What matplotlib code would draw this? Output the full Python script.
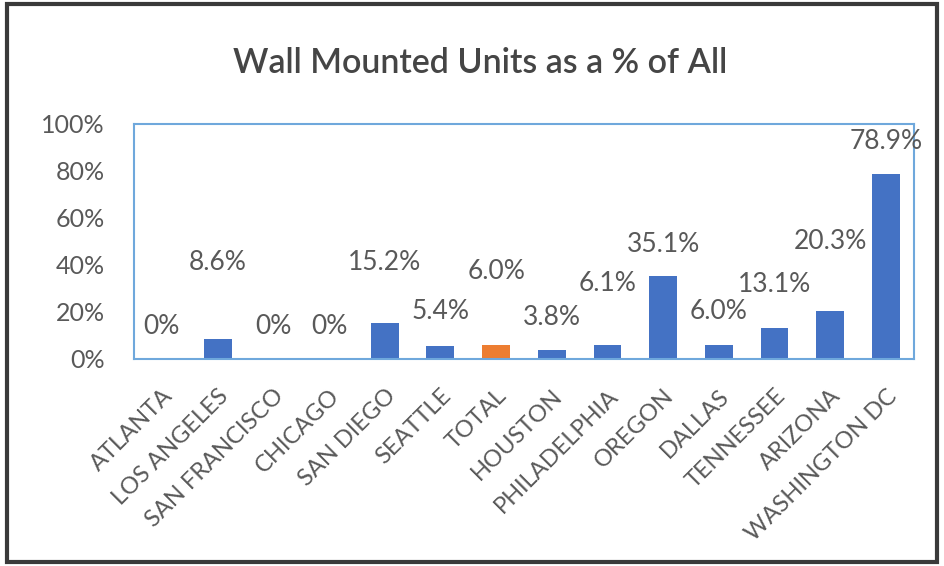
import matplotlib.pyplot as plt
from matplotlib.patches import Rectangle
from matplotlib.ticker import PercentFormatter

cities = ["ATLANTA", "LOS ANGELES", "SAN FRANCISCO", "CHICAGO", "SAN DIEGO",
          "SEATTLE", "TOTAL", "HOUSTON", "PHILADELPHIA", "OREGON", "DALLAS",
          "TENNESSEE", "ARIZONA", "WASHINGTON DC"]
pct = [0, 8.6, 0, 0, 15.2, 5.4, 6.0, 3.8, 6.1, 35.1, 6.0, 13.1, 20.3, 78.9]
labels = ["0%", "8.6%", "0%", "0%", "15.2%", "5.4%", "6.0%", "3.8%", "6.1%",
          "35.1%", "6.0%", "13.1%", "20.3%", "78.9%"]
# where the (hand-moved) data labels sit, in % units
label_y = [13.6, 41, 13.6, 13.6, 41, 20, 37, 17.5, 32, 48.5, 20, 31.5, 50, 92.5]

plt.rcParams['font.family'] = ['Lato', 'DejaVu Sans']
gray = '#595959'

fig = plt.figure(figsize=(9.44, 5.66), dpi=100)
ax = fig.add_axes([0.142, 0.366, 0.826, 0.415])

colors = ['#ED7D31' if c == "TOTAL" else '#4472C4' for c in cities]
x = range(len(cities))
ax.bar(x, pct, width=0.5, color=colors)
for i in x:
    ax.text(i, label_y[i], labels[i], ha='center', va='center',
            fontsize=19, color=gray)

ax.set_xlim(-0.5, len(cities) - 0.5)
ax.set_ylim(0, 100)
ax.set_yticks([0, 20, 40, 60, 80, 100])
ax.yaxis.set_major_formatter(PercentFormatter(decimals=0))
ax.set_xticks(list(x))
ax.set_xticklabels(cities, rotation=45, ha='right', rotation_mode='anchor')
ax.tick_params(axis='y', length=0, pad=21, labelsize=18, labelcolor=gray)
ax.tick_params(axis='x', length=0, pad=19, labelsize=17, labelcolor=gray)
for s in ax.spines.values():
    s.set_color('#6FA8DC')
    s.set_linewidth(1.5)

fig.text(0.509, 0.889, "Wall Mounted Units as a % of All", ha='center',
         va='center', fontsize=24.5, fontweight='semibold', color='#454545')

fig.patches.append(Rectangle((0.007, 0.007), 0.986, 0.986, transform=fig.transFigure,
                             fill=False, edgecolor='#3a3a3a', linewidth=3))

fig.savefig("out.png", dpi=100)
